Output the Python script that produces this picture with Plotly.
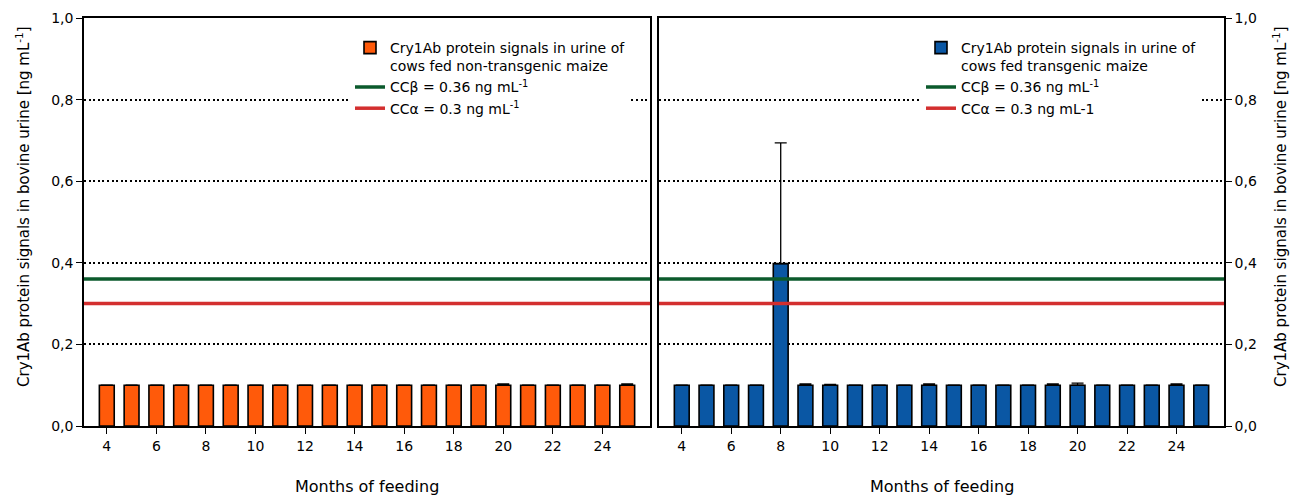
import plotly.graph_objects as go

# ---- data ----
months = list(range(4, 26))
nontg_values = [0.100] * 22
nontg_err = [0.0] * 22
nontg_err[months.index(20)] = 0.003
nontg_err[months.index(25)] = 0.003

tg_values = [0.100] * 22
tg_values[months.index(8)] = 0.398
tg_err = [0.0] * 22
tg_err[months.index(8)] = 0.296
tg_err[months.index(9)] = 0.003
tg_err[months.index(10)] = 0.002
tg_err[months.index(14)] = 0.003
tg_err[months.index(19)] = 0.003
tg_err[months.index(20)] = 0.005
tg_err[months.index(24)] = 0.003

cc_beta = 0.36
cc_alpha = 0.30
x_ticks = list(range(4, 25, 2))
y_ticks = [0, 0.2, 0.4, 0.6, 0.8, 1.0]
x_range = [3.08, 25.92]

names_left = ["Cry1Ab protein signals in urine of<br>cows fed non-transgenic maize",
              "CCβ = 0.36 ng mL<sup>-1</sup>", "CCα = 0.3 ng mL<sup>-1</sup>"]
names_right = ["Cry1Ab protein signals in urine of<br>cows fed transgenic maize",
               "CCβ = 0.36 ng mL<sup>-1</sup>", "CCα = 0.3 ng mL-1"]

ORANGE = "#FF5A0A"
BLUE = "#0A57A4"
GREEN = "#0B5A2C"
RED = "#D32F2F"
FONT = "DejaVu Sans"

fig = go.Figure()

for xa, ya, leg, names in [("x", "y", "legend", names_left), ("x2", "y2", "legend2", names_right)]:
    fig.add_trace(go.Scatter(x=x_range, y=[cc_beta, cc_beta], mode="lines",
                             line=dict(color=GREEN, width=3.5), name=names[1],
                             xaxis=xa, yaxis=ya, legend=leg, legendrank=2))
    fig.add_trace(go.Scatter(x=x_range, y=[cc_alpha, cc_alpha], mode="lines",
                             line=dict(color=RED, width=3.5), name=names[2],
                             xaxis=xa, yaxis=ya, legend=leg, legendrank=3))

fig.add_trace(go.Bar(x=months, y=nontg_values, width=0.6, name=names_left[0],
                     marker=dict(color=ORANGE, line=dict(color="black", width=1.6)),
                     error_y=dict(type="data", array=nontg_err, arrayminus=[0] * 22,
                                  symmetric=False, color="black", thickness=1.3, width=6),
                     xaxis="x", yaxis="y", legend="legend", legendrank=1))
fig.add_trace(go.Bar(x=months, y=tg_values, width=0.6, name=names_right[0],
                     marker=dict(color=BLUE, line=dict(color="black", width=1.6)),
                     error_y=dict(type="data", array=tg_err, arrayminus=[0] * 22,
                                  symmetric=False, color="black", thickness=1.3, width=6),
                     xaxis="x2", yaxis="y2", legend="legend2", legendrank=1))

W, H = 1293, 495
ml, mr, mt, mb = 84, 69, 18, 69
pw = W - ml - mr
ph = H - mt - mb
d1 = [0, 566 / pw]
d2 = [575 / pw, 1]

xcommon = dict(range=x_range, tickmode="array", tickvals=x_ticks, ticks="outside",
               ticklen=6, tickwidth=1.3, tickcolor="black", showline=True, linecolor="black",
               linewidth=1.5, mirror=True, showgrid=False, zeroline=False,
               tickfont=dict(family=FONT, size=14, color="black"), automargin=False)
ycommon = dict(range=[0, 1], tickmode="array", tickvals=y_ticks, tickformat=".1f",
               ticks="outside", ticklen=6, tickwidth=1.3, tickcolor="black", showline=True,
               linecolor="black", linewidth=1.5, mirror=True, showgrid=True,
               gridcolor="black", gridwidth=1.6, griddash="2px,2.6px", zeroline=False,
               tickfont=dict(family=FONT, size=14, color="black"), automargin=False)

legcommon = dict(bgcolor="white", borderwidth=0, font=dict(family=FONT, size=14, color="black"),
                 valign="top", xanchor="left", yanchor="top", traceorder="normal",
                 tracegroupgap=0)

fig.update_layout(
    width=W, height=H,
    margin=dict(l=ml, r=mr, t=mt, b=mb),
    paper_bgcolor="white", plot_bgcolor="white",
    separators=",.",
    showlegend=True,
    font=dict(family=FONT, size=14, color="black"),
    xaxis=dict(domain=d1, anchor="y", **xcommon),
    yaxis=dict(domain=[0, 1], anchor="x", side="left", **ycommon),
    xaxis2=dict(domain=d2, anchor="y2", **xcommon),
    yaxis2=dict(domain=[0, 1], anchor="x2", side="right", **ycommon),
    legend=dict(x=(350 - ml) / pw, y=1 - (32 - mt) / ph, **legcommon),
    legend2=dict(x=(921 - ml) / pw, y=1 - (32 - mt) / ph, **legcommon),
    bargap=0.4,
    annotations=[
        dict(text="Months of feeding", xref="paper", yref="paper",
             x=(d1[0] + d1[1]) / 2, y=(426 - 487) / ph, xanchor="center", yanchor="middle",
             showarrow=False, font=dict(family=FONT, size=16, color="black")),
        dict(text="Months of feeding", xref="paper", yref="paper",
             x=(d2[0] + d2[1]) / 2, y=(426 - 487) / ph, xanchor="center", yanchor="middle",
             showarrow=False, font=dict(family=FONT, size=16, color="black")),
        dict(text="Cry1Ab protein signals in bovine urine [ng mL<sup>-1</sup>]", xref="paper",
             yref="paper", x=(23 - ml) / pw, y=(426 - 207) / ph, textangle=-90,
             xanchor="center", yanchor="middle", showarrow=False,
             font=dict(family=FONT, size=15, color="black")),
        dict(text="Cry1Ab protein signals in bovine urine [ng mL<sup>-1</sup>]", xref="paper",
             yref="paper", x=(1280 - ml) / pw, y=(426 - 207) / ph, textangle=-90,
             xanchor="center", yanchor="middle", showarrow=False,
             font=dict(family=FONT, size=15, color="black")),
    ],
)

fig.write_html("out.html")
